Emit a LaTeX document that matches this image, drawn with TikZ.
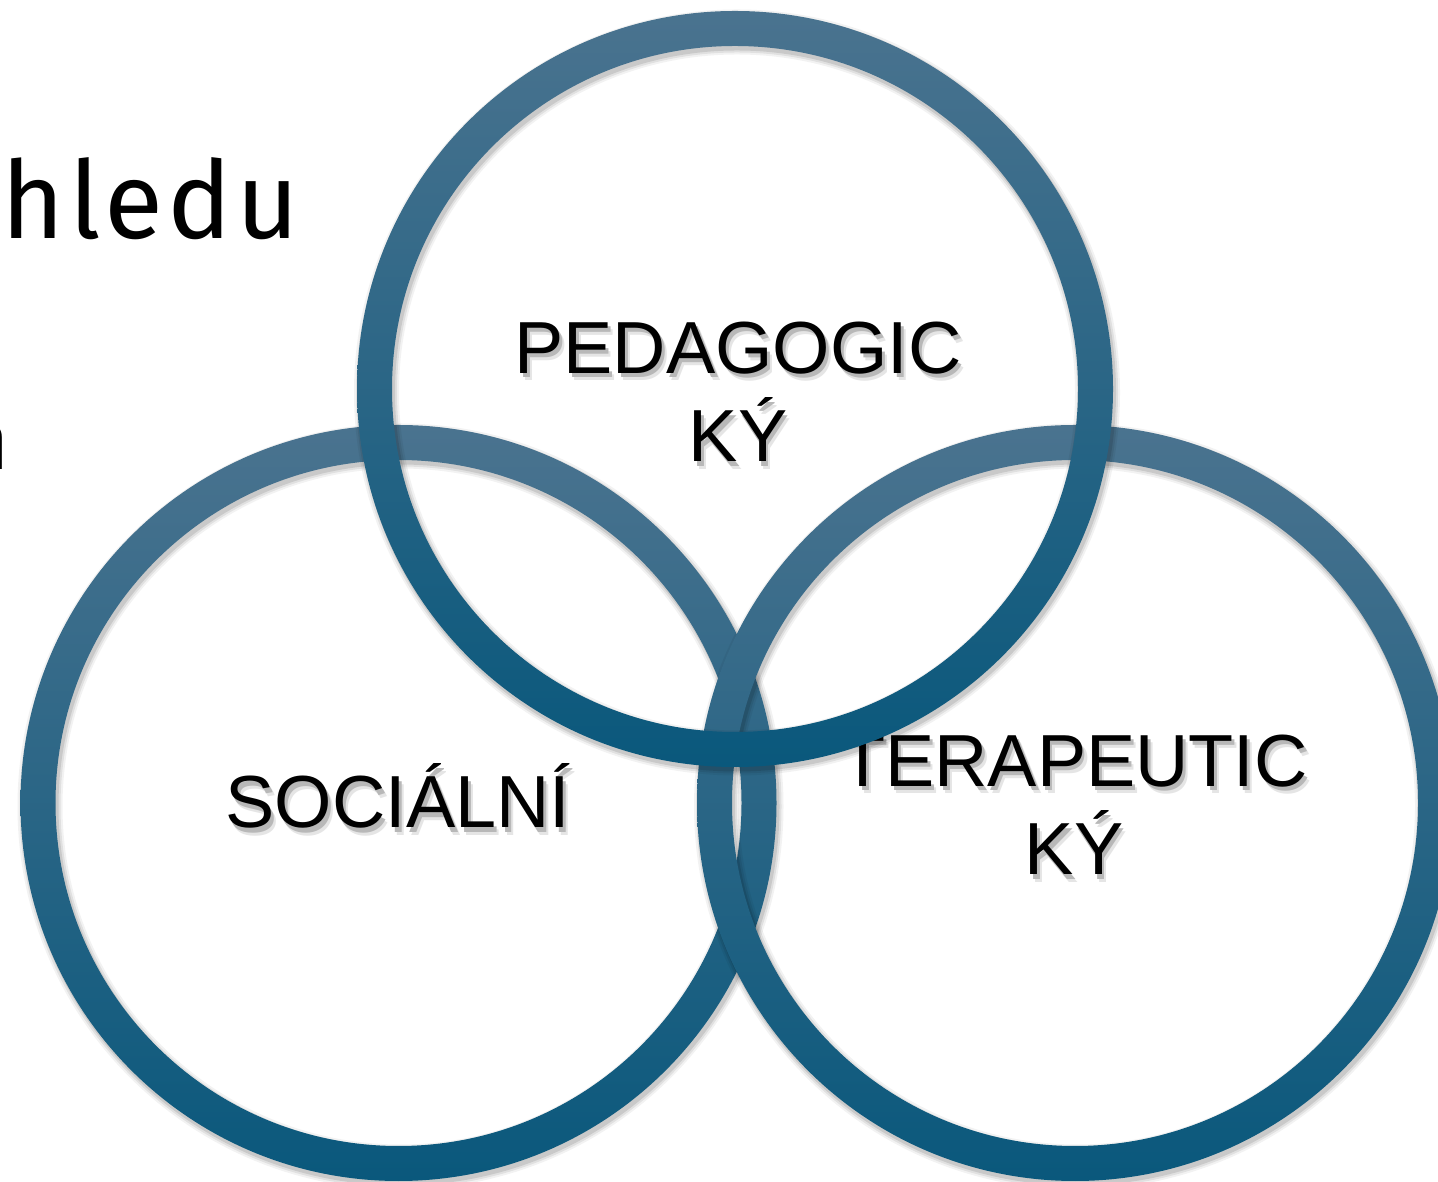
\documentclass[tikz,border=0pt]{standalone}
\usepackage{fontspec}
\setmainfont{Liberation Sans}
\newfontfamily\slidefont[LetterSpace=4]{Fira Sans}
\usetikzlibrary{calc}
\definecolor{ringtop}{RGB}{74,115,143}
\definecolor{ringbot}{RGB}{10,88,124}
\newcommand{\shadowed}[1]{\leavevmode\rlap{\hspace{1.4pt}\raisebox{-2pt}{\color{black!10}#1}}\rlap{\hspace{0.8pt}\raisebox{-1.2pt}{\color{black!28}#1}}#1}
\newcommand{\ringshadow}[1]{\foreach \w/\o in {0.45/0.05,0.41/0.07,0.37/0.1}
  \draw[black, opacity=\o, line width=\w cm] ($(#1)+(0.02,-0.035)$) circle (3.605);}
\tikzset{
  ring/.style={top color=ringtop, bottom color=ringbot, even odd rule},
  ringlabel/.style={font=\fontsize{21pt}{25.3pt}\selectfont, align=center, inner sep=0pt, anchor=base},
  slidetext/.style={inner sep=0pt, anchor=base east},
}

\begin{document}
\begin{tikzpicture}
\useasboundingbox (0,0) rectangle (14.38,11.81);
\clip (0,0) rectangle (14.38,11.81);
\fill [white] (0,0) rectangle (14.38,11.81);

\coordinate (soc) at (3.985,3.78);
\coordinate (ter) at (10.75,3.78);
\coordinate (ped) at (7.35,7.92);

% slide text behind
\node [slidetext, font=\slidefont\fontsize{30.7pt}{36pt}\selectfont] (hledu) at (3.0,9.42) {hledu};
\node [slidetext, font=\slidefont\fontsize{24pt}{29pt}\selectfont] (konec) at (0.11,7.11) {n};

% left ring
\ringshadow{soc}
\shade [ring] (soc) circle (3.78) (soc) circle (3.43);
\node [ringlabel] (social) at (3.98,3.53) {\shadowed{SOCIÁLNÍ}};

% right ring
\ringshadow{ter}
\shade [ring] (ter) circle (3.78) (ter) circle (3.43);
\node [ringlabel] (terap) at (10.74,3.06) {\shadowed{TERAPEUTIC}\\\shadowed{KÝ}};

% top ring
\ringshadow{ped}
\shade [ring] (ped) circle (3.78) (ped) circle (3.43);
\node [ringlabel] (pedag) at (7.38,7.19) {\shadowed{PEDAGOGIC}\\\shadowed{KÝ}};

\end{tikzpicture}
\end{document}
